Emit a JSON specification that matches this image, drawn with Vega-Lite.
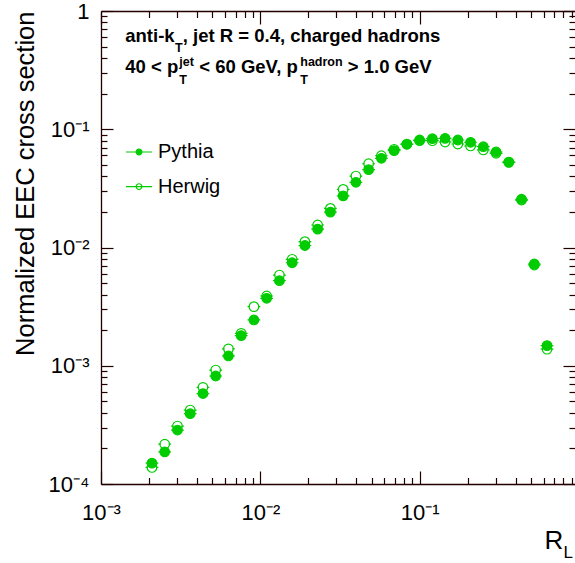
{
  "$schema": "https://vega.github.io/schema/vega-lite/v6.json",
  "width": 474,
  "height": 473,
  "autosize": {"type": "none"},
  "padding": {"left": 101, "top": 11, "right": 0, "bottom": 79},
  "background": "white",
  "config": {
    "view": {"stroke": null, "fill": null},
    "font": "Liberation Sans",
    "axis": {"labelFont": "Liberation Sans", "titleFont": "Liberation Sans", "grid": false, "labelColor": "#000000", "titleColor": "#000000", "titleFontWeight": "normal"}
  },
  "datasets": {
    "eec": [
      {"x": 0.0020893, "xlo": 0.0019055, "xhi": 0.0022909, "Pythia": 0.000150, "Herwig": 0.000138},
      {"x": 0.0025119, "xlo": 0.0022909, "xhi": 0.0027542, "Pythia": 0.000187, "Herwig": 0.000217},
      {"x": 0.0030200, "xlo": 0.0027542, "xhi": 0.0033113, "Pythia": 0.000286, "Herwig": 0.000309},
      {"x": 0.0036308, "xlo": 0.0033113, "xhi": 0.0039811, "Pythia": 0.000393, "Herwig": 0.000422},
      {"x": 0.0043652, "xlo": 0.0039811, "xhi": 0.0047863, "Pythia": 0.000582, "Herwig": 0.000657},
      {"x": 0.0052481, "xlo": 0.0047863, "xhi": 0.0057544, "Pythia": 0.000819, "Herwig": 0.000920},
      {"x": 0.0063096, "xlo": 0.0057544, "xhi": 0.0069183, "Pythia": 0.00121, "Herwig": 0.00139},
      {"x": 0.0075858, "xlo": 0.0069183, "xhi": 0.0083176, "Pythia": 0.00180, "Herwig": 0.00188},
      {"x": 0.0091201, "xlo": 0.0083176, "xhi": 0.0100000, "Pythia": 0.00244, "Herwig": 0.00316},
      {"x": 0.010965, "xlo": 0.010000, "xhi": 0.012023, "Pythia": 0.00372, "Herwig": 0.00389},
      {"x": 0.013183, "xlo": 0.012023, "xhi": 0.014454, "Pythia": 0.00524, "Herwig": 0.00585},
      {"x": 0.015849, "xlo": 0.014454, "xhi": 0.017378, "Pythia": 0.00743, "Herwig": 0.00795},
      {"x": 0.019055, "xlo": 0.017378, "xhi": 0.020893, "Pythia": 0.0104, "Herwig": 0.0112},
      {"x": 0.022909, "xlo": 0.020893, "xhi": 0.025119, "Pythia": 0.0143, "Herwig": 0.0155},
      {"x": 0.027542, "xlo": 0.025119, "xhi": 0.030200, "Pythia": 0.0199, "Herwig": 0.0214},
      {"x": 0.033113, "xlo": 0.030200, "xhi": 0.036308, "Pythia": 0.0273, "Herwig": 0.0310},
      {"x": 0.039811, "xlo": 0.036308, "xhi": 0.043652, "Pythia": 0.0356, "Herwig": 0.0402},
      {"x": 0.047863, "xlo": 0.043652, "xhi": 0.052481, "Pythia": 0.0455, "Herwig": 0.0511},
      {"x": 0.057544, "xlo": 0.052481, "xhi": 0.063096, "Pythia": 0.0568, "Herwig": 0.0597},
      {"x": 0.069183, "xlo": 0.063096, "xhi": 0.075858, "Pythia": 0.0659, "Herwig": 0.0677},
      {"x": 0.083176, "xlo": 0.075858, "xhi": 0.091201, "Pythia": 0.0746, "Herwig": 0.0750},
      {"x": 0.100000, "xlo": 0.091201, "xhi": 0.10965, "Pythia": 0.0811, "Herwig": 0.0800},
      {"x": 0.12023, "xlo": 0.10965, "xhi": 0.13183, "Pythia": 0.0832, "Herwig": 0.0800},
      {"x": 0.14454, "xlo": 0.13183, "xhi": 0.15849, "Pythia": 0.0838, "Herwig": 0.0780},
      {"x": 0.17378, "xlo": 0.15849, "xhi": 0.19055, "Pythia": 0.0811, "Herwig": 0.0750},
      {"x": 0.20893, "xlo": 0.19055, "xhi": 0.22909, "Pythia": 0.0776, "Herwig": 0.0722},
      {"x": 0.25119, "xlo": 0.22909, "xhi": 0.27542, "Pythia": 0.0712, "Herwig": 0.0668},
      {"x": 0.30200, "xlo": 0.27542, "xhi": 0.33113, "Pythia": 0.0642, "Herwig": 0.0626},
      {"x": 0.36308, "xlo": 0.33113, "xhi": 0.39811, "Pythia": 0.0528, "Herwig": 0.0525},
      {"x": 0.43652, "xlo": 0.39811, "xhi": 0.47863, "Pythia": 0.0256, "Herwig": 0.0252},
      {"x": 0.52481, "xlo": 0.47863, "xhi": 0.57544, "Pythia": 0.00725, "Herwig": 0.00711},
      {"x": 0.63096, "xlo": 0.57544, "xhi": 0.69183, "Pythia": 0.00148, "Herwig": 0.00138}
    ],
    "one": [{}]
  },
  "resolve": {"axis": {"x": "independent", "y": "independent"}},
  "layer": [
    {
      "data": {"name": "eec"},
      "transform": [{"fold": ["Pythia", "Herwig"], "as": ["series", "value"]}],
      "mark": {"type": "rule", "color": "#00cc00", "strokeWidth": 1.2, "strokeDash": [2.4, 7.95]},
      "encoding": {
        "x": {
          "field": "xlo", "type": "quantitative",
          "scale": {"type": "log", "domain": [0.001, 0.945], "nice": false},
          "axis": {
            "orient": "bottom",
            "values": [0.001, 0.01, 0.1],
            "ticks": false,
            "domain": true, "domainColor": "#220000", "domainWidth": 1.3,
            "labelExpr": "datum.value == 0.001 ? '10⁻³' : datum.value == 0.01 ? '10⁻²' : datum.value == 0.1 ? '10⁻¹' : ''",
            "labelFontSize": 22,
            "labelPadding": 18,
            "labelBaseline": "top",
            "labelAlign": "center",
            "labelFlush": false,
            "labelOverlap": false,
            "labelBound": false,
            "title": "R",
            "titleFontSize": 26,
            "titleX": 443,
            "titleY": 64,
            "titleAlign": "left",
            "titleBaseline": "alphabetic"
          }
        },
        "x2": {"field": "xhi"},
        "y": {
          "field": "value", "type": "quantitative",
          "scale": {"type": "log", "domain": [0.0001, 1], "nice": false},
          "axis": {
            "orient": "left",
            "values": [0.0001, 0.001, 0.01, 0.1, 1],
            "ticks": false,
            "domain": true, "domainColor": "#220000", "domainWidth": 1.3,
            "labelExpr": "datum.value == 0.0001 ? '10⁻⁴' : datum.value == 0.001 ? '10⁻³' : datum.value == 0.01 ? '10⁻²' : datum.value == 0.1 ? '10⁻¹' : datum.value == 1 ? '1' : ''",
            "labelFontSize": 22,
            "labelPadding": 12,
            "labelAlign": "right",
            "labelBaseline": "middle",
            "labelFlush": false,
            "labelOverlap": false,
            "labelBound": false,
            "title": "Normalized EEC cross section",
            "titleFontSize": 25.5,
            "titleAngle": 270,
            "titleX": -67.5,
            "titleY": 0,
            "titleAlign": "right",
            "titleBaseline": "alphabetic"
          }
        }
      }
    },
    {
      "data": {"name": "eec"},
      "transform": [{"fold": ["Pythia", "Herwig"], "as": ["series", "value"]}],
      "mark": {"type": "point", "shape": "circle", "size": 92, "strokeWidth": 1.2, "stroke": "#00cc00", "opacity": 1},
      "encoding": {
        "x": {
          "field": "x", "type": "quantitative",
          "axis": {"orient": "top", "values": [0.001, 0.01, 0.1], "ticks": false, "domain": true, "domainColor": "#220000", "domainWidth": 1.3, "labels": false, "title": null}
        },
        "y": {"field": "value", "type": "quantitative", "axis": null},
        "fill": {
          "field": "series", "type": "nominal",
          "scale": {"domain": ["Pythia", "Herwig"], "range": ["#00cc00", "transparent"]},
          "legend": {
            "orient": "none",
            "legendX": 24,
            "legendY": 127,
            "title": null,
            "padding": 0,
            "symbolType": "M-1,0L1,0M0.22,0A0.22,0.22,0,1,1,-0.22,0A0.22,0.22,0,1,1,0.22,0Z",
            "symbolSize": 676,
            "symbolStrokeColor": "#00cc00",
            "symbolStrokeWidth": 1.2,
            "symbolOpacity": 1,
            "labelFont": "Liberation Sans",
            "labelFontSize": 20,
            "labelColor": "black",
            "labelOffset": 5,
            "rowPadding": 10.6
          }
        }
      }
    },
    {
      "data": {"name": "one"},
      "mark": {"type": "text", "text": "anti-k", "font": "Liberation Sans", "fontWeight": "bold", "fontSize": 18.5, "align": "left", "baseline": "alphabetic", "color": "black"},
      "encoding": {
        "x": {"datum": 0.00142, "type": "quantitative", "axis": {"orient": "top", "offset": -473, "values": [0.001, 0.01, 0.1], "ticks": true, "tickSize": 13, "tickColor": "#220000", "tickWidth": 1.2, "domain": false, "labels": false, "title": null}},
        "y": {"datum": 0.55, "type": "quantitative", "axis": {"orient": "right", "offset": -474, "values": [0.0001, 0.001, 0.01, 0.1, 1], "ticks": true, "tickSize": 12, "tickColor": "#220000", "tickWidth": 1.2, "domain": false, "labels": false, "title": null}}
      }
    },
    {
      "data": {"name": "one"},
      "mark": {"type": "text", "text": "T", "font": "Liberation Sans", "fontWeight": "bold", "fontSize": 12.5, "align": "left", "baseline": "alphabetic", "dx": 49.8, "dy": 10.3, "color": "black"},
      "encoding": {
        "x": {"datum": 0.00142, "type": "quantitative", "axis": {"orient": "top", "offset": -473, "values": [0.002, 0.003, 0.004, 0.005, 0.006, 0.007, 0.008, 0.009, 0.02, 0.03, 0.04, 0.05, 0.06, 0.07, 0.08, 0.09, 0.2, 0.3, 0.4, 0.5, 0.6, 0.7, 0.8, 0.9], "ticks": true, "tickSize": 6.5, "tickColor": "#220000", "tickWidth": 1.2, "domain": false, "labels": false, "title": null}},
        "y": {"datum": 0.55, "type": "quantitative", "axis": {"orient": "right", "offset": -474, "values": [0.0002, 0.0003, 0.0004, 0.0005, 0.0006, 0.0007, 0.0008, 0.0009, 0.002, 0.003, 0.004, 0.005, 0.006, 0.007, 0.008, 0.009, 0.02, 0.03, 0.04, 0.05, 0.06, 0.07, 0.08, 0.09, 0.2, 0.3, 0.4, 0.5, 0.6, 0.7, 0.8, 0.9], "ticks": true, "tickSize": 6, "tickColor": "#220000", "tickWidth": 1.2, "domain": false, "labels": false, "title": null}}
      }
    },
    {
      "data": {"name": "one"},
      "mark": {"type": "text", "text": ", jet R = 0.4, charged hadrons", "font": "Liberation Sans", "fontWeight": "bold", "fontSize": 18.5, "align": "left", "baseline": "alphabetic", "dx": 57.5, "color": "black"},
      "encoding": {
        "x": {"datum": 0.00142, "type": "quantitative", "axis": {"orient": "bottom", "offset": -473, "values": [0.001, 0.01, 0.1], "ticks": true, "tickSize": 13, "tickColor": "#220000", "tickWidth": 1.2, "domain": false, "labels": false, "title": null}},
        "y": {"datum": 0.55, "type": "quantitative", "axis": {"orient": "left", "offset": -474, "values": [0.0001, 0.001, 0.01, 0.1, 1], "ticks": true, "tickSize": 12, "tickColor": "#220000", "tickWidth": 1.2, "domain": false, "labels": false, "title": null}}
      }
    },
    {
      "data": {"name": "one"},
      "mark": {"type": "text", "text": "40 < p", "font": "Liberation Sans", "fontWeight": "bold", "fontSize": 18.5, "align": "left", "baseline": "alphabetic", "color": "black"},
      "encoding": {
        "x": {"datum": 0.00142, "type": "quantitative", "axis": {"orient": "bottom", "offset": -473, "values": [0.002, 0.003, 0.004, 0.005, 0.006, 0.007, 0.008, 0.009, 0.02, 0.03, 0.04, 0.05, 0.06, 0.07, 0.08, 0.09, 0.2, 0.3, 0.4, 0.5, 0.6, 0.7, 0.8, 0.9], "ticks": true, "tickSize": 6.5, "tickColor": "#220000", "tickWidth": 1.2, "domain": false, "labels": false, "title": null}},
        "y": {"datum": 0.297, "type": "quantitative", "axis": {"orient": "left", "offset": -474, "values": [0.0002, 0.0003, 0.0004, 0.0005, 0.0006, 0.0007, 0.0008, 0.0009, 0.002, 0.003, 0.004, 0.005, 0.006, 0.007, 0.008, 0.009, 0.02, 0.03, 0.04, 0.05, 0.06, 0.07, 0.08, 0.09, 0.2, 0.3, 0.4, 0.5, 0.6, 0.7, 0.8, 0.9], "ticks": true, "tickSize": 6, "tickColor": "#220000", "tickWidth": 1.2, "domain": false, "labels": false, "title": null}}
      }
    },
    {
      "data": {"name": "one"},
      "mark": {"type": "text", "text": "T", "font": "Liberation Sans", "fontWeight": "bold", "fontSize": 12.5, "align": "left", "baseline": "alphabetic", "dx": 54, "dy": 10.3, "color": "black"},
      "encoding": {
        "x": {"datum": 0.00142, "type": "quantitative", "axis": {"orient": "bottom", "domain": false, "ticks": false, "labels": false, "title": "L", "titleFontSize": 17, "titleX": 462, "titleY": 73, "titleAlign": "left", "titleBaseline": "alphabetic"}},
        "y": {"datum": 0.297, "type": "quantitative", "axis": null}
      }
    },
    {
      "data": {"name": "one"},
      "mark": {"type": "text", "text": "jet", "font": "Liberation Sans", "fontWeight": "bold", "fontSize": 12.5, "align": "left", "baseline": "alphabetic", "dx": 54, "dy": -7, "color": "black"},
      "encoding": {
        "x": {"datum": 0.00142, "type": "quantitative", "axis": null},
        "y": {"datum": 0.297, "type": "quantitative", "axis": null}
      }
    },
    {
      "data": {"name": "one"},
      "mark": {"type": "text", "text": "< 60 GeV, p", "font": "Liberation Sans", "fontWeight": "bold", "fontSize": 18.5, "align": "left", "baseline": "alphabetic", "dx": 74, "color": "black"},
      "encoding": {
        "x": {"datum": 0.00142, "type": "quantitative", "axis": null},
        "y": {"datum": 0.297, "type": "quantitative", "axis": null}
      }
    },
    {
      "data": {"name": "one"},
      "mark": {"type": "text", "text": "T", "font": "Liberation Sans", "fontWeight": "bold", "fontSize": 12.5, "align": "left", "baseline": "alphabetic", "dx": 175, "dy": 10.3, "color": "black"},
      "encoding": {
        "x": {"datum": 0.00142, "type": "quantitative", "axis": null},
        "y": {"datum": 0.297, "type": "quantitative", "axis": null}
      }
    },
    {
      "data": {"name": "one"},
      "mark": {"type": "text", "text": "hadron", "font": "Liberation Sans", "fontWeight": "bold", "fontSize": 12.5, "align": "left", "baseline": "alphabetic", "dx": 175, "dy": -7, "color": "black"},
      "encoding": {
        "x": {"datum": 0.00142, "type": "quantitative", "axis": null},
        "y": {"datum": 0.297, "type": "quantitative", "axis": null}
      }
    },
    {
      "data": {"name": "one"},
      "mark": {"type": "text", "text": "> 1.0 GeV", "font": "Liberation Sans", "fontWeight": "bold", "fontSize": 18.5, "align": "left", "baseline": "alphabetic", "dx": 222.5, "color": "black"},
      "encoding": {
        "x": {"datum": 0.00142, "type": "quantitative", "axis": null},
        "y": {"datum": 0.297, "type": "quantitative", "axis": null}
      }
    }
  ]
}
